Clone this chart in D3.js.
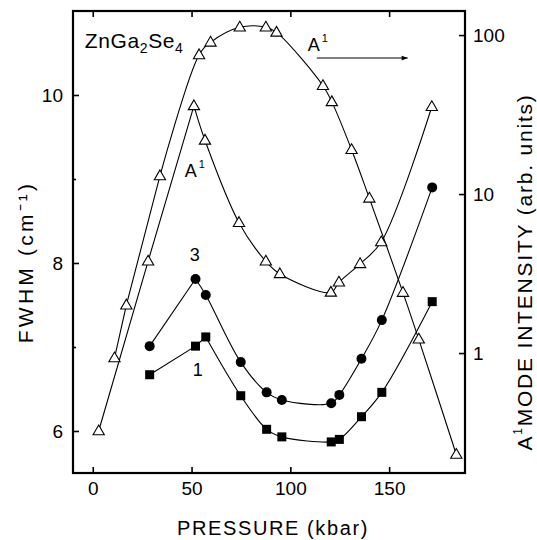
<!DOCTYPE html>
<html>
<head>
<meta charset="utf-8">
<script src="https://cdn.jsdelivr.net/npm/d3@7"></script>
<style>
  html, body { margin: 0; padding: 0; background: #fff; }
  svg { display: block; }
  text { font-family: "Liberation Sans", Arial, Helvetica, sans-serif; fill: #000; }
</style>
</head>
<body>
<script>
// ---- data ----
const pressureInt = [11, 17, 34, 53.8, 59.6, 74.4, 87.6, 93, 116.5, 121, 131, 140, 157, 165, 184];
const intensityA1 = [0.93, 2.0, 13, 75, 90, 112, 112, 104, 48, 38, 19, 9.4, 2.4, 1.22, 0.23];

const pressureFwhmA1 = [3, 28, 51.2, 56.8, 74, 87.6, 94.7, 120.5, 124.6, 135.3, 146, 171.6];
const fwhmA1 = [6.0, 8.02, 9.87, 9.46, 8.48, 8.02, 7.87, 7.65, 7.77, 7.99, 8.25, 9.86];

const pressureFwhm = [28.8, 52, 57.2, 74.9, 88, 95.7, 120.7, 124.8, 136, 146.3, 171.8];
const fwhm3 = [7.01, 7.81, 7.62, 6.82, 6.46, 6.37, 6.33, 6.43, 6.86, 7.32, 8.90];
const fwhm1 = [6.67, 7.01, 7.12, 6.42, 6.02, 5.93, 5.87, 5.90, 6.17, 6.46, 7.54];

const xTicks = [0, 50, 100, 150];
const yLeftTicks = [6, 8, 10];
const yLeftMinor = [7, 9];
const yRightTicks = [1, 10, 100];

// ---- layout ----
const W = 537, H = 540;
const L = 73, R = 465, T = 11, B = 473;

const x = d3.scaleLinear().domain([-10, 188.4]).range([L, R]);
const yL = d3.scaleLinear().domain([5.5, 11.0]).range([B, T]);
const yR = d3.scaleLog().domain([0.176, 141.7]).range([B, T]);

const svg = d3.select("body").append("svg").attr("width", W).attr("height", H);

// axes
const fs = 19;
function styleAxis(g) {
  g.select(".domain").remove();
  g.selectAll(".tick line").attr("stroke", "#000").attr("stroke-width", 1.6);
  g.selectAll(".tick text").attr("font-size", fs).attr("font-family", "Liberation Sans, Arial, sans-serif");
}
svg.append("g").attr("transform", `translate(0,${B})`)
  .call(d3.axisBottom(x).tickValues(xTicks).tickSize(-6).tickPadding(9).tickFormat(d3.format("d")))
  .call(styleAxis);
svg.append("g").attr("transform", `translate(0,${T})`)
  .call(d3.axisTop(x).tickValues(xTicks).tickSize(-6).tickFormat(""))
  .call(styleAxis);
svg.append("g").attr("transform", `translate(${L},0)`)
  .call(d3.axisLeft(yL).tickValues(yLeftTicks).tickSize(-6).tickPadding(10).tickFormat(d3.format("d")))
  .call(styleAxis);
svg.append("g").attr("transform", `translate(${L},0)`)
  .call(d3.axisLeft(yL).tickValues(yLeftMinor).tickSize(-3).tickFormat(""))
  .call(styleAxis);
svg.append("g").attr("transform", `translate(${R},0)`)
  .call(d3.axisRight(yR).tickValues(yRightTicks).tickSize(-6).tickPadding(8).tickFormat(d3.format("d")))
  .call(styleAxis);

// frame
svg.append("rect").attr("x", L).attr("y", T).attr("width", R - L).attr("height", B - T)
  .attr("fill", "none").attr("stroke", "#000").attr("stroke-width", 2.2);

// lines
const g = svg.append("g");
function drawSeries(px, py, ys, smoothFrom) {
  const pts = px.map((p, i) => [x(p), ys(py[i])]);
  const straight = d3.line().curve(d3.curveLinear);
  const smooth = d3.line().curve(d3.curveCatmullRom.alpha(0.5));
  if (smoothFrom > 0) {
    g.append("path").attr("d", straight(pts.slice(0, smoothFrom + 1)))
      .attr("fill", "none").attr("stroke", "#000").attr("stroke-width", 1.1);
  }
  g.append("path").attr("d", smooth(pts.slice(smoothFrom)))
    .attr("fill", "none").attr("stroke", "#000").attr("stroke-width", 1.1);
  return pts;
}
const ptsInt = drawSeries(pressureInt, intensityA1, yR, 2);
const ptsA1 = drawSeries(pressureFwhmA1, fwhmA1, yL, 2);
const pts3 = drawSeries(pressureFwhm, fwhm3, yL, 1);
const pts1 = drawSeries(pressureFwhm, fwhm1, yL, 2);

// markers
const tri = d3.symbol().type(d3.symbolTriangle).size(55);
function triangles(pts) {
  g.selectAll(null).data(pts).enter().append("path")
    .attr("d", tri).attr("transform", d => `translate(${d[0]},${d[1] + 0.5})`)
    .attr("fill", "#fff").attr("stroke", "#000").attr("stroke-width", 1.1);
}
triangles(ptsInt);
triangles(ptsA1);
g.selectAll(null).data(pts3).enter().append("circle")
  .attr("cx", d => d[0]).attr("cy", d => d[1]).attr("r", 5).attr("fill", "#000");
g.selectAll(null).data(pts1).enter().append("rect")
  .attr("x", d => d[0] - 4.5).attr("y", d => d[1] - 4.5).attr("width", 9).attr("height", 9).attr("fill", "#000");

// annotations
const t1 = svg.append("text").attr("x", x(-4)).attr("y", yL(10.56)).attr("font-size", 21)
  .attr("letter-spacing", 0.6);
t1.append("tspan").text("ZnGa");
t1.append("tspan").attr("dy", 5).attr("font-size", 14).text("2");
t1.append("tspan").attr("dy", -5).text("Se");
t1.append("tspan").attr("dy", 5).attr("font-size", 14).text("4");

function aOne(px, py) {
  const t = svg.append("text").attr("x", x(px)).attr("y", yL(py)).attr("font-size", 18);
  t.append("tspan").text("A");
  t.append("tspan").attr("dy", -9).attr("dx", 2).attr("font-size", 11).text("1");
}
aOne(108.8, 10.52);
aOne(46.6, 9.02);

svg.append("text").attr("x", x(51.6)).attr("y", yL(8.02)).attr("text-anchor", "middle").attr("font-size", 18).text("3");
svg.append("text").attr("x", x(53.1)).attr("y", yL(6.65)).attr("text-anchor", "middle").attr("font-size", 18).text("1");

// arrow
svg.append("defs").append("marker").attr("id", "ah").attr("viewBox", "0 0 10 10")
  .attr("refX", 10).attr("refY", 5).attr("markerWidth", 9).attr("markerHeight", 6)
  .attr("markerUnits", "userSpaceOnUse").attr("orient", "auto")
  .append("path").attr("d", "M0,1 L10,5 L0,9 Z").attr("fill", "#000");
svg.append("line").attr("x1", x(113.4)).attr("x2", x(159.4)).attr("y1", yL(10.44)).attr("y2", yL(10.44))
  .attr("stroke", "#000").attr("stroke-width", 1.1).attr("marker-end", "url(#ah)");

// axis titles
svg.append("text").attr("x", 273).attr("y", 535).attr("text-anchor", "middle")
  .attr("font-size", 20).attr("letter-spacing", 1.6).text("PRESSURE (kbar)");
svg.append("text").attr("transform", `translate(33,262) rotate(-90)`)
  .attr("text-anchor", "middle").attr("font-size", 21).attr("letter-spacing", 3.2).text("FWHM (cm⁻¹)");
const rt = svg.append("text").attr("transform", `translate(532,272) rotate(-90)`)
  .attr("text-anchor", "middle").attr("font-size", 21).attr("letter-spacing", 1.8);
rt.append("tspan").text("A");
rt.append("tspan").attr("dy", -10).attr("font-size", 12).text("1");
rt.append("tspan").attr("dy", 10).text("MODE INTENSITY (arb. units)");
</script>
</body>
</html>
